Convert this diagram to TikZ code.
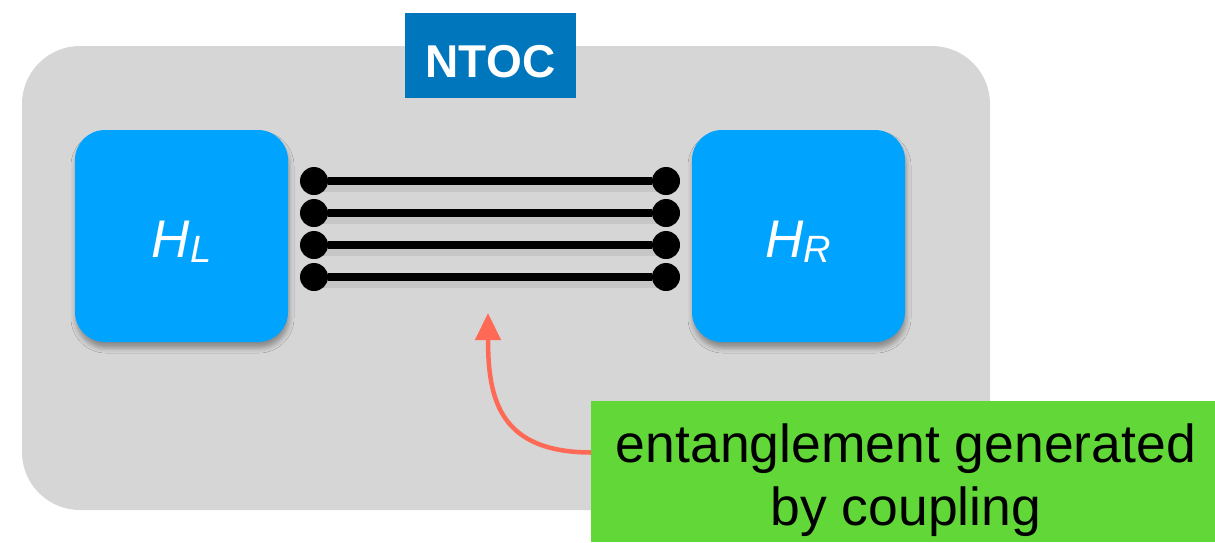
\documentclass[tikz,border=0pt]{standalone}
\usepackage{fontspec}
\setmainfont{Liberation Sans}
\usetikzlibrary{shadows.blur,arrows.meta}
\definecolor{panelgray}{RGB}{214,214,214}
\definecolor{ntocblue}{RGB}{0,118,188}
\definecolor{hamblue}{RGB}{0,164,255}
\definecolor{notegreen}{RGB}{98,216,56}
\definecolor{arrowred}{RGB}{255,106,86}
\newcommand{\hlabel}[1]{\fontsize{53}{53}\selectfont\itshape H\raisebox{-5pt}{\fontsize{38}{38}\selectfont #1}}
\begin{document}
\begin{tikzpicture}[x=1pt,y=-1pt,
  panel/.style={fill=panelgray, rounded corners=58pt},
  tag/.style={fill=ntocblue, text=white, inner sep=0pt,
    minimum width=171pt, minimum height=85pt,
    font=\fontsize{46}{46}\selectfont\bfseries, text height=43pt, text depth=0pt},
  ham/.style={fill=hamblue, rounded corners=30pt, inner sep=0pt,
    minimum width=213pt, minimum height=212pt, text=white,
    text height=47pt, text depth=5pt,
    blur shadow={shadow xshift=1pt, shadow yshift=-6pt,
      shadow blur radius=5pt, shadow opacity=35}},
  dot/.style={circle, fill=black, minimum size=28pt, inner sep=0pt},
  bond/.style={line width=8pt, black},
  bondshade/.style={line width=12pt, black, opacity=0.07},
  note/.style={fill=notegreen, inner sep=0pt,
    minimum width=624pt, minimum height=141pt},
  notetext/.style={align=center, inner sep=0pt,
    font=\fontsize{53.5}{63}\selectfont},
  pointer/.style={arrowred, line width=4.5pt,
    -{Triangle[length=27pt,width=25pt]}}
]
\useasboundingbox (0,0) rectangle (1215,542);

% grey panel holding the two subsystems
\path[panel] (22,46) rectangle (990,510);

% title tag
\node[tag] (ntoc) at (490.5,55.5) {NTOC};

% left and right Hamiltonians
\node[ham] (hl) at (181.5,236) {\hlabel{L}};
\node[ham] (hr) at (798.5,236) {\hlabel{R}};

% coupling bonds, with a soft shade beneath
\foreach \i/\y in {1/181,2/213,3/245,4/277}{
  \draw[bondshade] (314,\y+5) -- (666,\y+5);
}
\foreach \i/\y in {1/181,2/213,3/245,4/277}{
  \node[dot] (l\i) at (314,\y) {};
  \node[dot] (r\i) at (666,\y) {};
  \draw[bond] (l\i) -- (r\i);
}

% annotation
\coordinate (tip) at (488,313);
\node[note] (note) at (903,471.5) {};
\draw[pointer] ([yshift=19pt]note.west) .. controls (500,452) and (488,400) .. (tip);
\node[notetext] (notetext) at (906,480) {entanglement generated\\by coupling};
\end{tikzpicture}
\end{document}
